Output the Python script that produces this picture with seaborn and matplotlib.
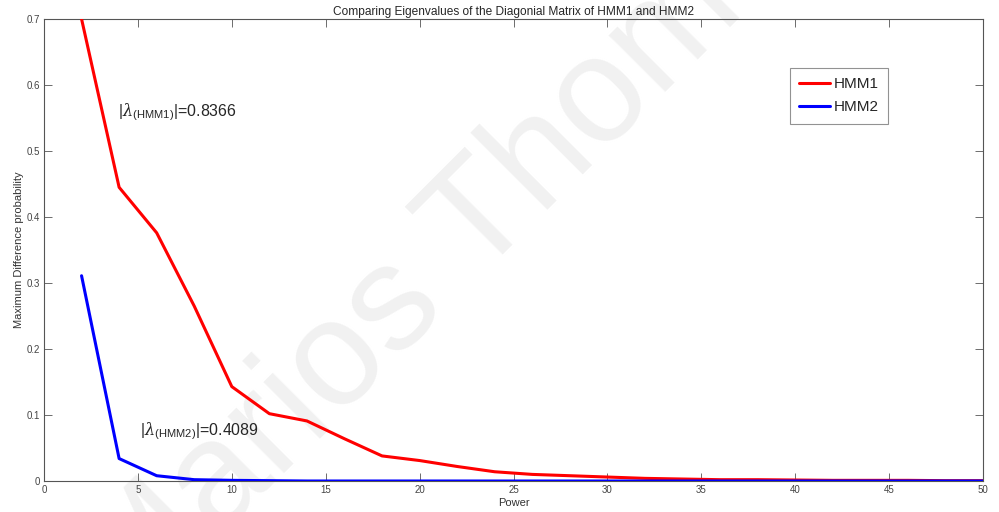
import numpy as np
import pandas as pd
import matplotlib
matplotlib.use("Agg")
import matplotlib.pyplot as plt
import seaborn as sns

power = [2, 4, 6, 8, 10, 12, 14, 16, 18, 20, 22, 24, 26, 28, 30, 32, 34, 36, 38, 40, 42, 44, 46, 48, 50]
hmm1 = [0.700, 0.445, 0.376, 0.265, 0.143, 0.102, 0.091, 0.064, 0.038, 0.031, 0.022, 0.014, 0.010,
        0.008, 0.006, 0.004, 0.003, 0.002, 0.002, 0.0015, 0.001, 0.001, 0.001, 0.0005, 0.0005]
hmm2 = [0.311, 0.034, 0.008, 0.002, 0.001, 0.0005, 0, 0, 0, 0, 0, 0, 0,
        0, 0, 0, 0, 0, 0, 0, 0, 0, 0, 0, 0]
series_names = ["HMM1", "HMM2"]
series_colors = ["#ff0000", "#0000ff"]
x_ticks = [0, 5, 10, 15, 20, 25, 30, 35, 40, 45, 50]
y_ticks = [0, 0.1, 0.2, 0.3, 0.4, 0.5, 0.6, 0.7]

df = pd.DataFrame({
    "Power": power * 2,
    "value": hmm1 + hmm2,
    "series": [series_names[0]] * len(power) + [series_names[1]] * len(power),
})

sns.set_theme(style="white")
plt.rcParams["font.family"] = ["Liberation Sans", "DejaVu Sans"]
plt.rcParams["mathtext.fontset"] = "custom"
plt.rcParams["mathtext.rm"] = "Liberation Sans"
plt.rcParams["mathtext.it"] = "DejaVu Serif:italic"

fig = plt.figure(figsize=(9.99, 5.12), dpi=100)
ax = fig.add_axes([44 / 999, 31 / 512, (983 - 44) / 999, (481 - 19) / 512])

# faint watermark
ax.text(130 / 999, 1 - 627 / 512, "Marios Thom", transform=fig.transFigure, rotation=45,
        rotation_mode="anchor", fontsize=108, color="#f1f1f1", ha="left", va="baseline",
        zorder=0.5, clip_on=False, family="Liberation Sans")

sns.lineplot(data=df, x="Power", y="value", hue="series", palette=dict(zip(series_names, series_colors)),
             linewidth=2.2, ax=ax, zorder=3)

ax.set_xlim(0, 50)
ax.set_ylim(0, 0.7)
ax.set_xticks(x_ticks)
ax.set_yticks(y_ticks)
ax.set_xticklabels([str(t) for t in x_ticks])
ax.set_yticklabels(["0" if t == 0 else f"{t:g}" for t in y_ticks])

for s in ax.spines.values():
    s.set_color("#555555")
    s.set_linewidth(0.8)
ax.tick_params(axis="both", which="both", direction="in", length=6, width=0.6,
               color="#555555", labelcolor="#444444", labelsize=7,
               top=True, right=True, bottom=True, left=True, pad=3)

ax.set_xlabel("Power", fontsize=8, color="#333333", labelpad=2)
ax.set_ylabel("Maximum Difference probability", fontsize=8, color="#333333", labelpad=2)
ax.set_title("Comparing Eigenvalues of the Diagonial Matrix of HMM1 and HMM2", fontsize=8.6, pad=3)

ax.text(3.95, 0.552, r"|$\lambda_{\mathrm{(HMM1)}}$|=0.8366", fontsize=11.5, va="baseline", ha="left", zorder=4)
ax.text(5.1, 0.069, r"|$\lambda_{\mathrm{(HMM2)}}$|=0.4089", fontsize=11.5, va="baseline", ha="left", zorder=4)

leg = ax.legend(loc="upper left", bbox_to_anchor=(790 / 999, 1 - 68 / 512),
                bbox_transform=fig.transFigure, fontsize=11, frameon=True, fancybox=False,
                handlelength=2.0, handletextpad=0.25, borderpad=0.6, labelspacing=0.6,
                borderaxespad=0, title=None)
leg.get_frame().set_edgecolor("#777777")
leg.get_frame().set_linewidth(0.8)
for h in leg.get_lines():
    h.set_linewidth(2.2)

fig.savefig("out.png", dpi=100)
